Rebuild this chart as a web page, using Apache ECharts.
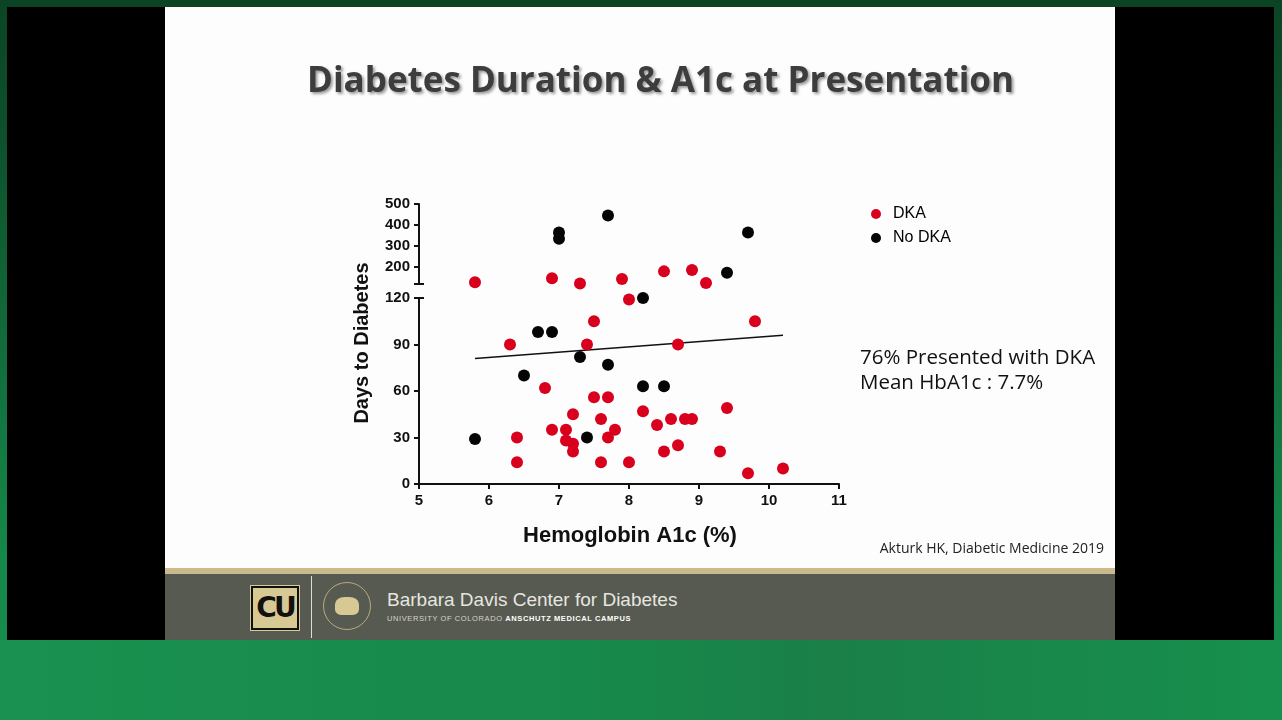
<!DOCTYPE html>
<html>
<head>
<meta charset="utf-8">
<script src="https://cdn.jsdelivr.net/npm/echarts@6.0.0/dist/echarts.min.js"></script>
<style>
  html, body { margin: 0; padding: 0; }
  body { width: 1282px; height: 720px; position: relative; overflow: hidden;
         background: linear-gradient(180deg, #0b4424 0px, #0d4f2b 120px, #15884a 560px, #17904d 720px); }
  .blk { position: absolute; background: #000; }
  #slide { position: absolute; left: 165px; top: 7px; width: 950px; height: 561px; background: #fdfdfd; }
  #gold { position: absolute; left: 165px; top: 568px; width: 950px; height: 6px; background: #cbbb8c; }
  #foot { position: absolute; left: 165px; top: 574px; width: 950px; height: 66px; background: #575a50; }
  #lower { position: absolute; left: 0; top: 640px; width: 1282px; height: 80px;
           background: linear-gradient(90deg, #1a9150 0%, #17894a 45%, #1a8048 65%, #17904d 100%); }
  #cu { position: absolute; left: 86px; top: 12px; width: 44px; height: 40px; background: #d8c894;
        border: 2px solid #111; box-shadow: 0 0 0 1px #d8c894; color: #111; font: 900 28px/40px "DejaVu Sans", sans-serif;
        text-align: center; letter-spacing: -3px; }
  #vline { position: absolute; left: 146px; top: 2px; width: 1px; height: 62px; background: #ddd; }
  #seal { position: absolute; left: 158px; top: 8px; width: 48px; height: 48px; border-radius: 50%;
          border: 1px solid #b8aa80; box-sizing: border-box; }
  #seal div { position: absolute; left: 11px; top: 14px; width: 24px; height: 18px; background: #d8c894; border-radius: 40% 40% 30% 30%; }
  #bdc { position: absolute; left: 222px; top: 15px; color: #e6e6e0; font: 300 19px "Liberation Sans", Arial, sans-serif; }
  #uc { position: absolute; left: 222px; top: 40px; color: #d4d4cc; font: 400 7.5px "Liberation Sans", Arial, sans-serif; letter-spacing: 0.6px; }
  #uc b { color: #fff; }
  #chart { position: absolute; left: 0; top: 0; width: 1282px; height: 720px; }
</style>
</head>
<body>
<div class="blk" style="left:7px;top:7px;width:158px;height:633px;"></div>
<div class="blk" style="left:1115px;top:7px;width:159px;height:633px;"></div>
<div id="lower"></div>
<div id="slide"></div>
<div id="gold"></div>
<div id="foot">
  <div id="cu">CU</div>
  <div id="vline"></div>
  <div id="seal"><div></div></div>
  <div id="bdc">Barbara Davis Center for Diabetes</div>
  <div id="uc">UNIVERSITY OF COLORADO <b>ANSCHUTZ MEDICAL CAMPUS</b></div>
</div>
<div id="chart"></div>
<script>
// Hemoglobin A1c (%) vs days to diabetes
const dkaA1c  = [6.3, 7.5, 7.4, 8.7, 9.8, 8.0, 6.8, 7.5, 7.7, 7.2, 8.2, 7.6, 8.6, 8.8, 8.9, 9.4, 8.4,
                 6.9, 7.1, 7.8, 6.4, 7.7, 7.1, 7.2, 7.2, 8.7, 8.5, 9.3, 6.4, 7.6, 8.0, 9.7, 10.2,
                 5.8, 6.9, 7.3, 7.9, 8.5, 8.9, 9.1];
const dkaDays = [90, 105, 90, 90, 105, 119, 62, 56, 56, 45, 47, 42, 42, 42, 42, 49, 38,
                 35, 35, 35, 30, 30, 28, 26, 21, 25, 21, 21, 14, 14, 14, 7, 10,
                 128, 147, 122, 144, 180, 187, 125];
const noDkaA1c  = [6.7, 6.9, 7.3, 7.7, 6.5, 8.2, 8.5, 5.8, 7.4, 8.2, 7.7, 7.0, 7.0, 9.7, 9.4];
const noDkaDays = [98, 98, 82, 77, 70, 63, 63, 29, 30, 120, 445, 365, 335, 365, 173];
const fitA1c  = [5.8, 10.2];
const fitDays = [81, 96];

const breakAt = 120;
const lowTicks = [0, 30, 60, 90, 120];
const highTicks = [200, 300, 400, 500];
const xTicks = [5, 6, 7, 8, 9, 10, 11];

const pairs = (xs, ys) => xs.map((x, i) => [x, ys[i]]);
const dka = pairs(dkaA1c, dkaDays);
const noDka = pairs(noDkaA1c, noDkaDays);
const low = (pts) => pts.filter((p) => p[1] <= breakAt);
const high = (pts) => pts.filter((p) => p[1] > breakAt);

const axisFont = { fontFamily: "Liberation Sans", fontWeight: "bold", fontSize: 15, color: "#111" };
const lineStyle = { color: "#111", width: 2 };
const red = "#d8001d";
const black = "#050505";

// short tick on the inner side of the axis, so the break ends look like caps
const capAxis = (gridIndex, min, max) => ({
  gridIndex: gridIndex, type: "value", min: min, max: max, position: "left",
  axisLine: { show: false }, axisLabel: { show: false }, splitLine: { show: false },
  axisTick: { show: true, inside: true, length: 5, lineStyle: lineStyle, customValues: [breakAt] }
});

const myChart = echarts.init(document.getElementById("chart"));
const option = {
  animation: false,
  textStyle: { fontFamily: "Liberation Sans" },
  title: {
    text: "Diabetes Duration & A1c at Presentation",
    left: 302, top: 60,
    textStyle: {
      fontFamily: "Open Sans", fontWeight: "bold", fontSize: 35, color: "#3d3d3d",
      textShadowColor: "rgba(0,0,0,0.4)", textShadowBlur: 3, textShadowOffsetX: 2, textShadowOffsetY: 2
    }
  },
  legend: {
    data: ["DKA", "No DKA"],
    orient: "vertical", left: 866, top: 201,
    icon: "circle", itemWidth: 10, itemHeight: 10, itemGap: 8,
    textStyle: { fontFamily: "Liberation Sans", fontSize: 16, color: "#000", padding: [0, 0, 0, 7] }
  },
  grid: [
    { left: 419, top: 204, width: 420, height: 80 },
    { left: 419, top: 298, width: 420, height: 186 }
  ],
  xAxis: [
    { gridIndex: 0, type: "value", min: 5, max: 11, interval: 1, show: false },
    {
      gridIndex: 1, type: "value", min: 5, max: 11, interval: 1,
      axisLine: { show: true, lineStyle: lineStyle },
      axisTick: { show: true, length: 5, lineStyle: lineStyle, customValues: xTicks },
      axisLabel: Object.assign({ margin: 9, customValues: xTicks }, axisFont),
      splitLine: { show: false }
    }
  ],
  yAxis: [
    {
      gridIndex: 0, type: "value", min: breakAt, max: 500, position: "left",
      axisLine: { show: true, lineStyle: lineStyle },
      axisTick: { show: true, length: 5, lineStyle: lineStyle, customValues: [breakAt].concat(highTicks) },
      axisLabel: Object.assign({ margin: 9, customValues: highTicks }, axisFont),
      splitLine: { show: false }
    },
    {
      gridIndex: 1, type: "value", min: 0, max: breakAt, position: "left",
      axisLine: { show: true, lineStyle: lineStyle },
      axisTick: { show: true, length: 5, lineStyle: lineStyle, customValues: lowTicks },
      axisLabel: Object.assign({ margin: 9, customValues: lowTicks }, axisFont),
      splitLine: { show: false }
    },
    capAxis(0, breakAt, 500),
    capAxis(1, 0, breakAt)
  ],
  graphic: [
    {
      type: "text", x: 362, y: 343, rotation: Math.PI / 2,
      style: { text: "Days to Diabetes", font: "bold 20px 'Liberation Sans'", fill: "#111", align: "center", verticalAlign: "middle" }
    },
    {
      type: "text", x: 630, y: 536,
      style: { text: "Hemoglobin A1c (%)", font: "bold 22px 'Liberation Sans'", fill: "#111", align: "center", verticalAlign: "middle" }
    },
    {
      type: "text", x: 860, y: 358,
      style: { text: "76% Presented with DKA", font: "20.5px 'Open Sans'", fill: "#111", verticalAlign: "middle" }
    },
    {
      type: "text", x: 860, y: 383,
      style: { text: "Mean HbA1c : 7.7%", font: "20.5px 'Open Sans'", fill: "#111", verticalAlign: "middle" }
    },
    {
      type: "text", x: 1104, y: 549,
      style: { text: "Akturk HK, Diabetic Medicine 2019", font: "14px 'Open Sans'", fill: "#222", align: "right", verticalAlign: "middle" }
    }
  ],
  series: [
    { name: "DKA", type: "scatter", xAxisIndex: 0, yAxisIndex: 0, data: high(dka), symbolSize: 12, itemStyle: { color: red, opacity: 1 } },
    { name: "DKA", type: "scatter", xAxisIndex: 1, yAxisIndex: 1, data: low(dka), symbolSize: 12, itemStyle: { color: red, opacity: 1 } },
    { name: "No DKA", type: "scatter", xAxisIndex: 0, yAxisIndex: 0, data: high(noDka), symbolSize: 12, itemStyle: { color: black, opacity: 1 } },
    { name: "No DKA", type: "scatter", xAxisIndex: 1, yAxisIndex: 1, data: low(noDka), symbolSize: 12, itemStyle: { color: black, opacity: 1 } },
    {
      name: "fit", type: "line", xAxisIndex: 1, yAxisIndex: 1, data: pairs(fitA1c, fitDays),
      symbol: "none", lineStyle: { color: "#111", width: 1.5 }, z: 1
    }
  ]
};
myChart.setOption(option, true);
</script>
</body>
</html>
